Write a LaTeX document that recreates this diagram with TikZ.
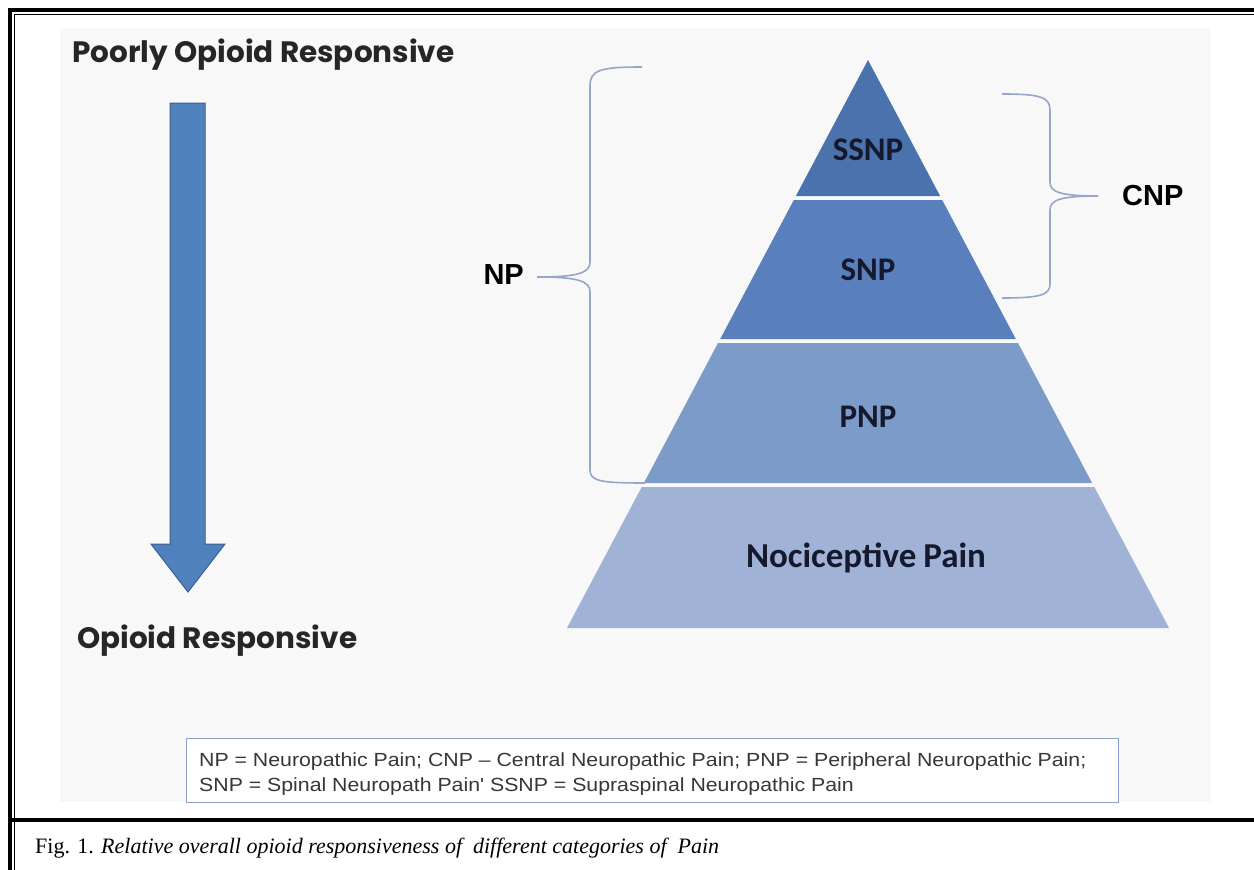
\documentclass[tikz,border=0pt]{standalone}
\usepackage{fontspec}
\setmainfont{Liberation Serif}
\newfontfamily\titlefont{Poppins}
\newfontfamily\calib{Carlito}
\newfontfamily\arialf{Liberation Sans}
\definecolor{layA}{RGB}{74,114,172}
\definecolor{layB}{RGB}{89,128,188}
\definecolor{layC}{RGB}{124,155,200}
\definecolor{layD}{RGB}{160,179,214}
\definecolor{arrowfill}{RGB}{79,129,189}
\definecolor{arrowline}{RGB}{58,95,145}
\definecolor{bracec}{RGB}{150,166,200}
\definecolor{legendc}{RGB}{140,160,205}
\definecolor{slidebg}{RGB}{248,248,248}
\definecolor{labtext}{RGB}{20,25,45}
\definecolor{legtext}{RGB}{55,55,55}
\tikzset{
  bigtitle/.style={anchor=base west, inner sep=0pt, font=\titlefont\bfseries\fontsize{29.5}{32}\selectfont, text=black!85},
  layerlabel/.style={inner sep=0pt, font=\calib\bfseries\fontsize{33}{36}\selectfont, text=labtext},
  bracelabel/.style={inner sep=0pt, font=\arialf\bfseries\fontsize{29}{32}\selectfont, text=black},
  bracepath/.style={draw=bracec, line width=1.6pt, line join=round},
  legendtext/.style={anchor=base west, inner sep=0pt, text=legtext, font=\arialf\fontsize{19}{25}\selectfont},
}
\begin{document}
\begin{tikzpicture}[x=1pt,y=-1pt]
\useasboundingbox (0,0) rectangle (1254,870);
\fill[white] (0,0) rectangle (1254,870);
% slide background
\fill[slidebg] (60,28) rectangle (1211,802);
% frame
\draw[line width=4pt] (8,10) -- (1254,10);
\draw[line width=1.5pt] (14,14.5) -- (1254,14.5);
\draw[line width=4pt] (10,8) -- (10,870);
\draw[line width=1.5pt] (14.5,14) -- (14.5,870);
\draw[line width=4pt] (10,820) -- (1254,820);

% titles
\node[bigtitle] (top) at (72,62) {Poorly Opioid Responsive};
\node[bigtitle] (bottom) at (77,648) {Opioid Responsive};

% block arrow
\filldraw[fill=arrowfill, draw=arrowline, line width=1pt, line join=miter]
  (170,103) -- (205,103) -- (205,544) -- (225,544) -- (188,592) -- (151,544) -- (170,544) -- cycle;

% pyramid
\fill[layA] (868,60) -- (868+72.1,196) -- (868-72.1,196) -- cycle;
\fill[layB] (868-74.2,200) -- (868+74.2,200) -- (868+147.8,339) -- (868-147.8,339) -- cycle;
\fill[layC] (868-150.0,343) -- (868+150.0,343) -- (868+224.1,483) -- (868-224.1,483) -- cycle;
\fill[layD] (868-226.3,487) -- (868+226.3,487) -- (868+301,628) -- (868-301,628) -- cycle;

\node[layerlabel] (ssnp) at (868,150) {SSNP};
\node[layerlabel] (snp) at (868,270) {SNP};
\node[layerlabel] (pnp) at (868,417) {PNP};
\node[layerlabel, font=\calib\bfseries\fontsize{35}{38}\selectfont] (noci) at (866,558) {Nociceptive\hspace{-1pt} Pain};

% NP brace
\coordinate (npTop) at (642,67);
\coordinate (npTip) at (537,277);
\coordinate (npBot) at (645,483);
\draw[bracepath] (npTop) .. controls (600,67) and (590,70) .. (590,86)
  -- (590,262) .. controls (590,273) and (578,277) .. (npTip)
  (npTip) .. controls (578,277) and (590,281) .. (590,292)
  -- (590,470) .. controls (590,481) and (600,483) .. (npBot);
\node[bracelabel, anchor=east] (np) at (524,275) {NP};

% CNP brace
\coordinate (cnpTop) at (1002,94);
\coordinate (cnpTip) at (1098,196);
\coordinate (cnpBot) at (1002,298);
\draw[bracepath] (cnpTop) .. controls (1040,94) and (1050,97) .. (1050,110)
  -- (1050,182) .. controls (1050,192) and (1060,196) .. (cnpTip)
  (cnpTip) .. controls (1060,196) and (1050,200) .. (1050,210)
  -- (1050,284) .. controls (1050,295) and (1040,298) .. (cnpBot);
\node[bracelabel, anchor=west] (cnp) at (1122,196) {CNP};

% legend
\node[draw=legendc, fill=white, line width=1.3pt, minimum width=932pt, minimum height=64pt, inner sep=0pt, anchor=north west] (legend) at (186,738) {};
\node[legendtext] (leg1) at (199,766) {\scalebox{1.12}[1]{NP = Neuropathic Pain; CNP – Central Neuropathic Pain; PNP = Peripheral Neuropathic Pain;}};
\node[legendtext] (leg2) at (199,791) {\scalebox{1.12}[1]{SNP = Spinal Neuropath Pain' SSNP = Supraspinal Neuropathic Pain}};

% caption
\node[anchor=base west, inner sep=0pt, font=\fontsize{22}{26}\selectfont] (cap) at (35,853) {Fig. 1. \textit{Relative overall opioid responsiveness of\ \ different categories of\ \ Pain}};
\end{tikzpicture}
\end{document}
